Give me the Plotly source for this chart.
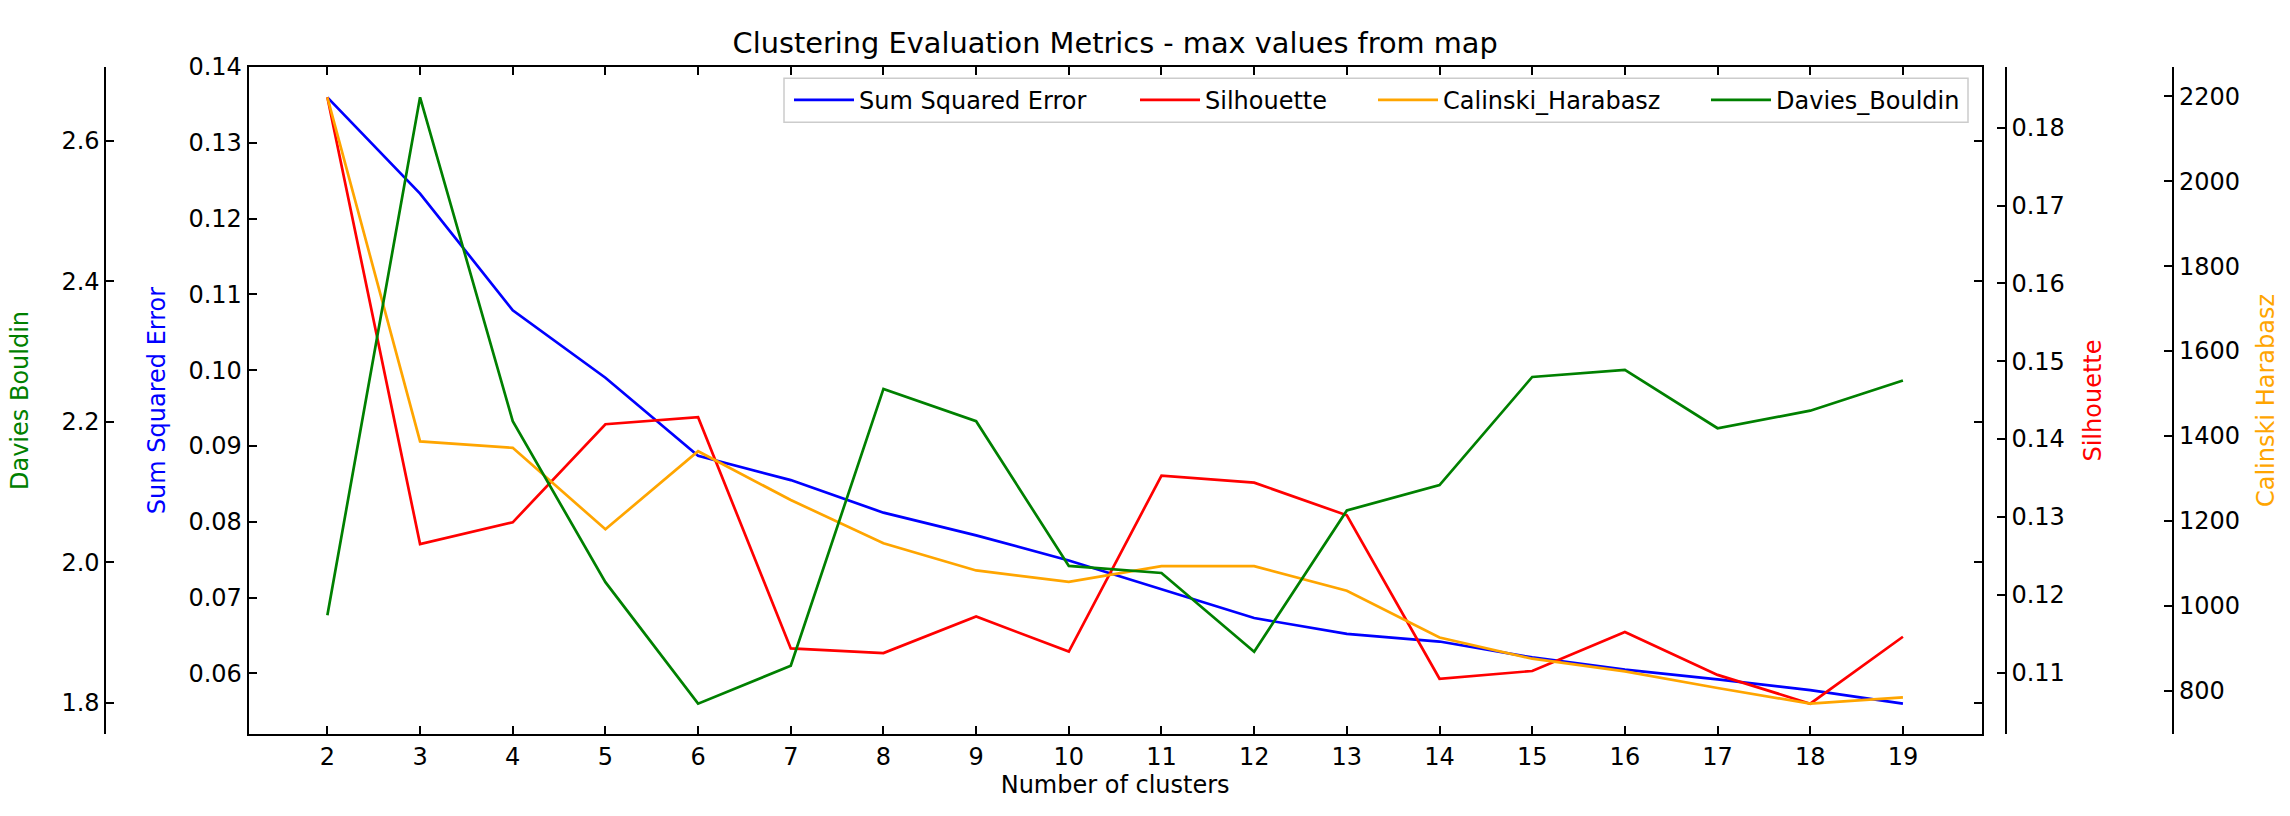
import plotly.graph_objects as go

# ---------------- data ----------------
clusters = list(range(2, 20))
sse = [0.1360, 0.1233, 0.1079, 0.0990, 0.0887, 0.0855, 0.0812, 0.0782, 0.0749,
       0.0711, 0.0673, 0.0652, 0.0642, 0.0621, 0.0605, 0.0592, 0.0578, 0.0560]
silhouette = [0.1839, 0.1265, 0.1293, 0.1419, 0.1428, 0.1131, 0.1125, 0.1172, 0.1127,
              0.1353, 0.1344, 0.1302, 0.1092, 0.1102, 0.1152, 0.1097, 0.1060, 0.1146]
calinski = [2198, 1387, 1372, 1180, 1364, 1249, 1147, 1083, 1056,
            1093, 1093, 1035, 925, 875, 845, 806, 769, 784]
davies = [1.925, 2.662, 2.201, 1.972, 1.799, 1.853, 2.247, 2.201, 1.995,
          1.985, 1.873, 2.074, 2.110, 2.264, 2.274, 2.191, 2.216, 2.259]

names = ["Sum Squared Error", "Silhouette", "Calinski_Harabasz", "Davies_Bouldin"]
axis_titles = ["Sum Squared Error", "Silhouette", "Calinski Harabasz", "Davies Bouldin"]
colors = ["#0000ff", "#ff0000", "#ffa500", "#008000"]
title_text = "Clustering Evaluation Metrics - max values from map"
xlabel = "Number of clusters"

# ---------------- layout geometry (pixels) ----------------
W, H = 2290, 816
ML, MR, MT, MB = 10, 10, 66.7, 81.7
PLOT_L, PLOT_R = 248.6, 1981.7
PLOT_T, PLOT_B = MT, H - MB
DB_X, SIL_X, CH_X = 105.3, 2005.7, 2173.3
PW = W - ML - MR
PH = H - MT - MB
LEG_BOX = (784, 1968, 78, 122)          # left, right, top, bottom
LEG_TEXT_X = [859, 1205, 1443, 1776]    # where each legend label starts
LEG_TEXT_Y = 100


def px(x):
    return (x - ML) / PW


def py(y):
    return (PLOT_B - y) / PH


def padded(vals, frac=0.05):
    lo, hi = min(vals), max(vals)
    r = hi - lo
    return [lo - frac * r, hi + frac * r]


FONT = "DejaVu Sans"
TXT = 24

common = dict(showline=True, linecolor="black", linewidth=1.8, ticks="inside",
              ticklen=8, tickwidth=1.6, tickcolor="black", showgrid=False,
              zeroline=False, tickfont=dict(family=FONT, size=TXT, color="black"))

fig = go.Figure()
series = [sse, silhouette, calinski, davies]
yrefs = ["y", "y2", "y3", "y4"]
legends = ["legend", "legend2", "legend3", "legend4"]
for vals, nm, col, yr, lg in zip(series, names, colors, yrefs, legends):
    fig.add_trace(go.Scatter(x=clusters, y=vals, name=nm, mode="lines",
                             line=dict(color=col, width=2.7), yaxis=yr, legend=lg))
# invisible copy of Davies-Bouldin that carries its mirrored ticks on the right frame
fig.add_trace(go.Scatter(x=clusters, y=davies, mode="lines", showlegend=False,
                         hoverinfo="skip", line=dict(color="rgba(0,0,0,0)", width=0),
                         yaxis="y5"))

legend_layout = {}
for lg, tx in zip(legends, LEG_TEXT_X):
    legend_layout[lg] = dict(orientation="h", x=px(tx - 70), xanchor="left",
                             y=py(LEG_TEXT_Y), yanchor="middle",
                             bgcolor="rgba(0,0,0,0)", borderwidth=0,
                             font=dict(family=FONT, size=TXT, color="black"),
                             itemwidth=60)

fig.update_layout(
    width=W, height=H,
    margin=dict(l=ML, r=MR, t=MT, b=MB, autoexpand=False),
    plot_bgcolor="white", paper_bgcolor="white",
    font=dict(family=FONT, size=TXT, color="black"),
    title=dict(text=title_text, x=px((PLOT_L + PLOT_R) / 2), xref="paper", xanchor="center",
               y=1 - 43 / H, yref="container", yanchor="middle",
               font=dict(family=FONT, size=28.8, color="black")),
    xaxis=dict(domain=[px(PLOT_L), px(PLOT_R)], range=padded(clusters),
               tickvals=clusters, mirror="ticks",
               title=dict(text=xlabel, font=dict(family=FONT, size=TXT), standoff=4),
               automargin=False, **common),
    yaxis=dict(range=padded(sse), tick0=0.06, dtick=0.01, tickformat=".2f",
               mirror=True, automargin=False,
               title=dict(text=axis_titles[0], font=dict(family=FONT, size=TXT, color=colors[0]),
                          standoff=16),
               **common),
    yaxis2=dict(overlaying="y", side="right", anchor="free", position=px(SIL_X),
                range=padded(silhouette), tick0=0.1, dtick=0.01, tickformat=".2f",
                automargin=False,
                title=dict(text=axis_titles[1], font=dict(family=FONT, size=TXT, color=colors[1]),
                           standoff=19),
                **common),
    yaxis3=dict(overlaying="y", side="right", anchor="free", position=px(CH_X),
                range=padded(calinski), tick0=0, dtick=200, tickformat="d",
                automargin=False,
                title=dict(text=axis_titles[2], font=dict(family=FONT, size=TXT, color=colors[2]),
                           standoff=17),
                **common),
    yaxis4=dict(overlaying="y", side="left", anchor="free", position=px(DB_X),
                range=padded(davies), tick0=0, dtick=0.2, tickformat=".1f",
                automargin=False,
                title=dict(text=axis_titles[3], font=dict(family=FONT, size=TXT, color=colors[3]),
                           standoff=25),
                **common),
    yaxis5=dict(overlaying="y", side="right", anchor="x", range=padded(davies),
                tick0=0, dtick=0.2, showticklabels=False, showline=False,
                ticks="inside", ticklen=8, tickwidth=1.6, tickcolor="black",
                showgrid=False, zeroline=False),
    shapes=[dict(type="rect", xref="paper", yref="paper", layer="above",
                 x0=px(LEG_BOX[0]), x1=px(LEG_BOX[1]),
                 y0=py(LEG_BOX[3]), y1=py(LEG_BOX[2]),
                 fillcolor="white", line=dict(color="#cccccc", width=1.5))],
    showlegend=True,
    **legend_layout,
)

fig.write_html("out.html", config={"displayModeBar": False},
               post_script="document.body.style.margin='0';")
